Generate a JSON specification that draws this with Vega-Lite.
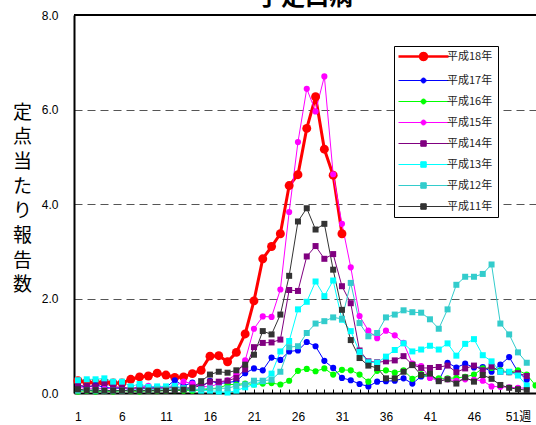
{
"$schema": "https://vega.github.io/schema/vega-lite/v6.json",
"width": 462, "height": 378,
"autosize": {"type": "none"},
"padding": {"left": 74, "top": 15, "right": 0, "bottom": 32},
"background": "white",
"title": {"text": "手足口病", "fontSize": 24, "font": "Noto Sans CJK JP", "fontWeight": "bold", "color": "black", "anchor": "middle", "baseline": "alphabetic", "offset": 4, "dy": 24},
"config": {"view": {"stroke": null}},
"resolve": {"axis": {"x": "independent"}},
"data": {"values": [
{"s":"平成18年","w":1,"v":0.26},{"s":"平成18年","w":2,"v":0.23},{"s":"平成18年","w":3,"v":0.22},{"s":"平成18年","w":4,"v":0.23},{"s":"平成18年","w":5,"v":0.21},{"s":"平成18年","w":6,"v":0.21},{"s":"平成18年","w":7,"v":0.29},{"s":"平成18年","w":8,"v":0.34},{"s":"平成18年","w":9,"v":0.36},{"s":"平成18年","w":10,"v":0.42},{"s":"平成18年","w":11,"v":0.38},{"s":"平成18年","w":12,"v":0.33},{"s":"平成18年","w":13,"v":0.34},{"s":"平成18年","w":14,"v":0.41},{"s":"平成18年","w":15,"v":0.48},{"s":"平成18年","w":16,"v":0.78},{"s":"平成18年","w":17,"v":0.79},{"s":"平成18年","w":18,"v":0.66},{"s":"平成18年","w":19,"v":0.86},{"s":"平成18年","w":20,"v":1.25},{"s":"平成18年","w":21,"v":1.95},{"s":"平成18年","w":22,"v":2.84},{"s":"平成18年","w":23,"v":3.10},{"s":"平成18年","w":24,"v":3.37},{"s":"平成18年","w":25,"v":4.39},{"s":"平成18年","w":26,"v":4.62},{"s":"平成18年","w":27,"v":5.60},{"s":"平成18年","w":28,"v":6.27},{"s":"平成18年","w":29,"v":5.16},{"s":"平成18年","w":30,"v":4.61},{"s":"平成18年","w":31,"v":3.37},
{"s":"平成17年","w":1,"v":0.17},{"s":"平成17年","w":2,"v":0.12},{"s":"平成17年","w":3,"v":0.17},{"s":"平成17年","w":4,"v":0.12},{"s":"平成17年","w":5,"v":0.10},{"s":"平成17年","w":6,"v":0.10},{"s":"平成17年","w":7,"v":0.08},{"s":"平成17年","w":8,"v":0.10},{"s":"平成17年","w":9,"v":0.10},{"s":"平成17年","w":10,"v":0.12},{"s":"平成17年","w":11,"v":0.12},{"s":"平成17年","w":12,"v":0.27},{"s":"平成17年","w":13,"v":0.15},{"s":"平成17年","w":14,"v":0.22},{"s":"平成17年","w":15,"v":0.12},{"s":"平成17年","w":16,"v":0.26},{"s":"平成17年","w":17,"v":0.20},{"s":"平成17年","w":18,"v":0.22},{"s":"平成17年","w":19,"v":0.25},{"s":"平成17年","w":20,"v":0.42},{"s":"平成17年","w":21,"v":0.52},{"s":"平成17年","w":22,"v":0.48},{"s":"平成17年","w":23,"v":0.75},{"s":"平成17年","w":24,"v":0.70},{"s":"平成17年","w":25,"v":0.88},{"s":"平成17年","w":26,"v":0.90},{"s":"平成17年","w":27,"v":1.08},{"s":"平成17年","w":28,"v":0.99},{"s":"平成17年","w":29,"v":0.68},{"s":"平成17年","w":30,"v":0.53},{"s":"平成17年","w":31,"v":0.32},{"s":"平成17年","w":32,"v":0.27},{"s":"平成17年","w":33,"v":0.19},{"s":"平成17年","w":34,"v":0.14},{"s":"平成17年","w":35,"v":0.24},{"s":"平成17年","w":36,"v":0.25},{"s":"平成17年","w":37,"v":0.26},{"s":"平成17年","w":38,"v":0.31},{"s":"平成17年","w":39,"v":0.20},{"s":"平成17年","w":40,"v":0.35},{"s":"平成17年","w":41,"v":0.37},{"s":"平成17年","w":42,"v":0.26},{"s":"平成17年","w":43,"v":0.64},{"s":"平成17年","w":44,"v":0.54},{"s":"平成17年","w":45,"v":0.62},{"s":"平成17年","w":46,"v":0.54},{"s":"平成17年","w":47,"v":0.55},{"s":"平成17年","w":48,"v":0.45},{"s":"平成17年","w":49,"v":0.60},{"s":"平成17年","w":50,"v":0.76},{"s":"平成17年","w":51,"v":0.45},{"s":"平成17年","w":52,"v":0.28},
{"s":"平成16年","w":1,"v":0.03},{"s":"平成16年","w":2,"v":0.05},{"s":"平成16年","w":3,"v":0.03},{"s":"平成16年","w":4,"v":0.04},{"s":"平成16年","w":5,"v":0.03},{"s":"平成16年","w":6,"v":0.05},{"s":"平成16年","w":7,"v":0.04},{"s":"平成16年","w":8,"v":0.03},{"s":"平成16年","w":9,"v":0.05},{"s":"平成16年","w":10,"v":0.04},{"s":"平成16年","w":11,"v":0.05},{"s":"平成16年","w":12,"v":0.06},{"s":"平成16年","w":13,"v":0.05},{"s":"平成16年","w":14,"v":0.05},{"s":"平成16年","w":15,"v":0.06},{"s":"平成16年","w":16,"v":0.08},{"s":"平成16年","w":17,"v":0.10},{"s":"平成16年","w":18,"v":0.18},{"s":"平成16年","w":19,"v":0.18},{"s":"平成16年","w":20,"v":0.20},{"s":"平成16年","w":21,"v":0.18},{"s":"平成16年","w":22,"v":0.20},{"s":"平成16年","w":23,"v":0.21},{"s":"平成16年","w":24,"v":0.18},{"s":"平成16年","w":25,"v":0.26},{"s":"平成16年","w":26,"v":0.47},{"s":"平成16年","w":27,"v":0.51},{"s":"平成16年","w":28,"v":0.46},{"s":"平成16年","w":29,"v":0.52},{"s":"平成16年","w":30,"v":0.39},{"s":"平成16年","w":31,"v":0.49},{"s":"平成16年","w":32,"v":0.48},{"s":"平成16年","w":33,"v":0.39},{"s":"平成16年","w":34,"v":0.24},{"s":"平成16年","w":35,"v":0.47},{"s":"平成16年","w":36,"v":0.48},{"s":"平成16年","w":37,"v":0.43},{"s":"平成16年","w":38,"v":0.48},{"s":"平成16年","w":39,"v":0.30},{"s":"平成16年","w":40,"v":0.40},{"s":"平成16年","w":41,"v":0.33},{"s":"平成16年","w":42,"v":0.31},{"s":"平成16年","w":43,"v":0.31},{"s":"平成16年","w":44,"v":0.32},{"s":"平成16年","w":45,"v":0.34},{"s":"平成16年","w":46,"v":0.39},{"s":"平成16年","w":47,"v":0.52},{"s":"平成16年","w":48,"v":0.53},{"s":"平成16年","w":49,"v":0.48},{"s":"平成16年","w":50,"v":0.44},{"s":"平成16年","w":51,"v":0.48},{"s":"平成16年","w":52,"v":0.39},{"s":"平成16年","w":53,"v":0.16},
{"s":"平成15年","w":1,"v":0.12},{"s":"平成15年","w":2,"v":0.10},{"s":"平成15年","w":3,"v":0.10},{"s":"平成15年","w":4,"v":0.09},{"s":"平成15年","w":5,"v":0.10},{"s":"平成15年","w":6,"v":0.12},{"s":"平成15年","w":7,"v":0.08},{"s":"平成15年","w":8,"v":0.12},{"s":"平成15年","w":9,"v":0.15},{"s":"平成15年","w":10,"v":0.12},{"s":"平成15年","w":11,"v":0.12},{"s":"平成15年","w":12,"v":0.15},{"s":"平成15年","w":13,"v":0.24},{"s":"平成15年","w":14,"v":0.20},{"s":"平成15年","w":15,"v":0.14},{"s":"平成15年","w":16,"v":0.13},{"s":"平成15年","w":17,"v":0.20},{"s":"平成15年","w":18,"v":0.27},{"s":"平成15年","w":19,"v":0.40},{"s":"平成15年","w":20,"v":0.69},{"s":"平成15年","w":21,"v":1.36},{"s":"平成15年","w":22,"v":1.62},{"s":"平成15年","w":23,"v":1.61},{"s":"平成15年","w":24,"v":2.19},{"s":"平成15年","w":25,"v":3.83},{"s":"平成15年","w":26,"v":5.31},{"s":"平成15年","w":27,"v":6.44},{"s":"平成15年","w":28,"v":5.96},{"s":"平成15年","w":29,"v":6.70},{"s":"平成15年","w":30,"v":4.63},{"s":"平成15年","w":31,"v":3.58},{"s":"平成15年","w":32,"v":2.66},{"s":"平成15年","w":33,"v":1.63},{"s":"平成15年","w":34,"v":1.32},{"s":"平成15年","w":35,"v":1.16},{"s":"平成15年","w":36,"v":1.32},{"s":"平成15年","w":37,"v":1.22},{"s":"平成15年","w":38,"v":1.06},{"s":"平成15年","w":39,"v":0.62},{"s":"平成15年","w":40,"v":0.57},{"s":"平成15年","w":41,"v":0.32},{"s":"平成15年","w":42,"v":0.26},{"s":"平成15年","w":43,"v":0.29},{"s":"平成15年","w":44,"v":0.26},{"s":"平成15年","w":45,"v":0.29},{"s":"平成15年","w":46,"v":0.28},{"s":"平成15年","w":47,"v":0.26},{"s":"平成15年","w":48,"v":0.14},{"s":"平成15年","w":49,"v":0.13},{"s":"平成15年","w":50,"v":0.12},{"s":"平成15年","w":51,"v":0.11},{"s":"平成15年","w":52,"v":0.10},
{"s":"平成14年","w":1,"v":0.15},{"s":"平成14年","w":2,"v":0.15},{"s":"平成14年","w":3,"v":0.14},{"s":"平成14年","w":4,"v":0.21},{"s":"平成14年","w":5,"v":0.13},{"s":"平成14年","w":6,"v":0.12},{"s":"平成14年","w":7,"v":0.10},{"s":"平成14年","w":8,"v":0.12},{"s":"平成14年","w":9,"v":0.10},{"s":"平成14年","w":10,"v":0.10},{"s":"平成14年","w":11,"v":0.10},{"s":"平成14年","w":12,"v":0.12},{"s":"平成14年","w":13,"v":0.10},{"s":"平成14年","w":14,"v":0.12},{"s":"平成14年","w":15,"v":0.15},{"s":"平成14年","w":16,"v":0.24},{"s":"平成14年","w":17,"v":0.24},{"s":"平成14年","w":18,"v":0.26},{"s":"平成14年","w":19,"v":0.32},{"s":"平成14年","w":20,"v":0.50},{"s":"平成14年","w":21,"v":0.97},{"s":"平成14年","w":22,"v":1.06},{"s":"平成14年","w":23,"v":1.07},{"s":"平成14年","w":24,"v":1.13},{"s":"平成14年","w":25,"v":2.18},{"s":"平成14年","w":26,"v":2.16},{"s":"平成14年","w":27,"v":2.89},{"s":"平成14年","w":28,"v":3.11},{"s":"平成14年","w":29,"v":2.84},{"s":"平成14年","w":30,"v":2.94},{"s":"平成14年","w":31,"v":2.26},{"s":"平成14年","w":32,"v":1.90},{"s":"平成14年","w":33,"v":0.90},{"s":"平成14年","w":34,"v":0.67},{"s":"平成14年","w":35,"v":0.65},{"s":"平成14年","w":36,"v":0.67},{"s":"平成14年","w":37,"v":0.69},{"s":"平成14年","w":38,"v":0.78},{"s":"平成14年","w":39,"v":0.60},{"s":"平成14年","w":40,"v":0.53},{"s":"平成14年","w":41,"v":0.53},{"s":"平成14年","w":42,"v":0.55},{"s":"平成14年","w":43,"v":0.58},{"s":"平成14年","w":44,"v":0.44},{"s":"平成14年","w":45,"v":0.52},{"s":"平成14年","w":46,"v":0.58},{"s":"平成14年","w":47,"v":0.48},{"s":"平成14年","w":48,"v":0.56},{"s":"平成14年","w":49,"v":0.45},{"s":"平成14年","w":50,"v":0.44},{"s":"平成14年","w":51,"v":0.42},{"s":"平成14年","w":52,"v":0.36},
{"s":"平成13年","w":1,"v":0.27},{"s":"平成13年","w":2,"v":0.29},{"s":"平成13年","w":3,"v":0.29},{"s":"平成13年","w":4,"v":0.31},{"s":"平成13年","w":5,"v":0.24},{"s":"平成13年","w":6,"v":0.24},{"s":"平成13年","w":7,"v":0.14},{"s":"平成13年","w":8,"v":0.19},{"s":"平成13年","w":9,"v":0.13},{"s":"平成13年","w":10,"v":0.14},{"s":"平成13年","w":11,"v":0.14},{"s":"平成13年","w":12,"v":0.15},{"s":"平成13年","w":13,"v":0.10},{"s":"平成13年","w":14,"v":0.08},{"s":"平成13年","w":15,"v":0.05},{"s":"平成13年","w":16,"v":0.05},{"s":"平成13年","w":17,"v":0.03},{"s":"平成13年","w":18,"v":0.01},{"s":"平成13年","w":19,"v":0.05},{"s":"平成13年","w":20,"v":0.12},{"s":"平成13年","w":21,"v":0.18},{"s":"平成13年","w":22,"v":0.25},{"s":"平成13年","w":23,"v":0.41},{"s":"平成13年","w":24,"v":0.88},{"s":"平成13年","w":25,"v":1.10},{"s":"平成13年","w":26,"v":1.77},{"s":"平成13年","w":27,"v":1.93},{"s":"平成13年","w":28,"v":2.36},{"s":"平成13年","w":29,"v":2.05},{"s":"平成13年","w":30,"v":2.38},{"s":"平成13年","w":31,"v":1.55},{"s":"平成13年","w":32,"v":1.31},{"s":"平成13年","w":33,"v":0.87},{"s":"平成13年","w":34,"v":0.65},{"s":"平成13年","w":35,"v":0.64},{"s":"平成13年","w":36,"v":0.77},{"s":"平成13年","w":37,"v":0.91},{"s":"平成13年","w":38,"v":1.05},{"s":"平成13年","w":39,"v":0.88},{"s":"平成13年","w":40,"v":0.92},{"s":"平成13年","w":41,"v":1.00},{"s":"平成13年","w":42,"v":0.92},{"s":"平成13年","w":43,"v":1.05},{"s":"平成13年","w":44,"v":0.79},{"s":"平成13年","w":45,"v":1.04},{"s":"平成13年","w":46,"v":1.14},{"s":"平成13年","w":47,"v":0.80},{"s":"平成13年","w":48,"v":0.67},{"s":"平成13年","w":49,"v":0.45},{"s":"平成13年","w":50,"v":0.45},{"s":"平成13年","w":51,"v":0.37},{"s":"平成13年","w":52,"v":0.16},
{"s":"平成12年","w":1,"v":0.05},{"s":"平成12年","w":2,"v":0.06},{"s":"平成12年","w":3,"v":0.05},{"s":"平成12年","w":4,"v":0.05},{"s":"平成12年","w":5,"v":0.05},{"s":"平成12年","w":6,"v":0.05},{"s":"平成12年","w":7,"v":0.06},{"s":"平成12年","w":8,"v":0.06},{"s":"平成12年","w":9,"v":0.06},{"s":"平成12年","w":10,"v":0.08},{"s":"平成12年","w":11,"v":0.08},{"s":"平成12年","w":12,"v":0.08},{"s":"平成12年","w":13,"v":0.08},{"s":"平成12年","w":14,"v":0.08},{"s":"平成12年","w":15,"v":0.08},{"s":"平成12年","w":16,"v":0.10},{"s":"平成12年","w":17,"v":0.10},{"s":"平成12年","w":18,"v":0.10},{"s":"平成12年","w":19,"v":0.15},{"s":"平成12年","w":20,"v":0.18},{"s":"平成12年","w":21,"v":0.26},{"s":"平成12年","w":22,"v":0.26},{"s":"平成12年","w":23,"v":0.28},{"s":"平成12年","w":24,"v":0.45},{"s":"平成12年","w":25,"v":0.97},{"s":"平成12年","w":26,"v":0.99},{"s":"平成12年","w":27,"v":1.27},{"s":"平成12年","w":28,"v":1.47},{"s":"平成12年","w":29,"v":1.52},{"s":"平成12年","w":30,"v":1.60},{"s":"平成12年","w":31,"v":1.57},{"s":"平成12年","w":32,"v":2.33},{"s":"平成12年","w":33,"v":1.48},{"s":"平成12年","w":34,"v":1.20},{"s":"平成12年","w":35,"v":1.27},{"s":"平成12年","w":36,"v":1.60},{"s":"平成12年","w":37,"v":1.66},{"s":"平成12年","w":38,"v":1.75},{"s":"平成12年","w":39,"v":1.71},{"s":"平成12年","w":40,"v":1.70},{"s":"平成12年","w":41,"v":1.56},{"s":"平成12年","w":42,"v":1.36},{"s":"平成12年","w":43,"v":1.77},{"s":"平成12年","w":44,"v":2.29},{"s":"平成12年","w":45,"v":2.46},{"s":"平成12年","w":46,"v":2.46},{"s":"平成12年","w":47,"v":2.52},{"s":"平成12年","w":48,"v":2.72},{"s":"平成12年","w":49,"v":1.47},{"s":"平成12年","w":50,"v":1.24},{"s":"平成12年","w":51,"v":0.86},{"s":"平成12年","w":52,"v":0.64},
{"s":"平成11年","w":1,"v":0.08},{"s":"平成11年","w":2,"v":0.06},{"s":"平成11年","w":3,"v":0.06},{"s":"平成11年","w":4,"v":0.05},{"s":"平成11年","w":5,"v":0.05},{"s":"平成11年","w":6,"v":0.05},{"s":"平成11年","w":7,"v":0.05},{"s":"平成11年","w":8,"v":0.05},{"s":"平成11年","w":9,"v":0.05},{"s":"平成11年","w":10,"v":0.05},{"s":"平成11年","w":11,"v":0.05},{"s":"平成11年","w":12,"v":0.06},{"s":"平成11年","w":13,"v":0.07},{"s":"平成11年","w":14,"v":0.10},{"s":"平成11年","w":15,"v":0.25},{"s":"平成11年","w":16,"v":0.39},{"s":"平成11年","w":17,"v":0.45},{"s":"平成11年","w":18,"v":0.43},{"s":"平成11年","w":19,"v":0.48},{"s":"平成11年","w":20,"v":0.60},{"s":"平成11年","w":21,"v":0.81},{"s":"平成11年","w":22,"v":1.31},{"s":"平成11年","w":23,"v":1.24},{"s":"平成11年","w":24,"v":1.66},{"s":"平成11年","w":25,"v":2.48},{"s":"平成11年","w":26,"v":3.63},{"s":"平成11年","w":27,"v":3.91},{"s":"平成11年","w":28,"v":3.46},{"s":"平成11年","w":29,"v":3.58},{"s":"平成11年","w":30,"v":2.61},{"s":"平成11年","w":31,"v":1.76},{"s":"平成11年","w":32,"v":1.12},{"s":"平成11年","w":33,"v":0.74},{"s":"平成11年","w":34,"v":0.58},{"s":"平成11年","w":35,"v":0.53},{"s":"平成11年","w":36,"v":0.31},{"s":"平成11年","w":37,"v":0.31},{"s":"平成11年","w":38,"v":0.45},{"s":"平成11年","w":39,"v":0.59},{"s":"平成11年","w":40,"v":0.38},{"s":"平成11年","w":41,"v":0.41},{"s":"平成11年","w":42,"v":0.25},{"s":"平成11年","w":43,"v":0.29},{"s":"平成11年","w":44,"v":0.20},{"s":"平成11年","w":45,"v":0.33},{"s":"平成11年","w":46,"v":0.24},{"s":"平成11年","w":47,"v":0.38},{"s":"平成11年","w":48,"v":0.30},{"s":"平成11年","w":49,"v":0.17},{"s":"平成11年","w":50,"v":0.11},{"s":"平成11年","w":51,"v":0.08},{"s":"平成11年","w":52,"v":0.06}
]},
"layer": [
{"mark": {"type": "rule", "color": "black", "strokeWidth": 2},
 "encoding": {"y": {"datum": 8, "type": "quantitative"}}},
{"mark": {"type": "line", "strokeJoin": "round"},
 "encoding": {
  "x": {"field": "w", "type": "quantitative",
        "scale": {"domain": [0.55, 53.05], "nice": false, "zero": false},
        "axis": {"orient": "bottom", "title": null, "values": [1,6,11,16,21,26,31,36,41,46,51],
                 "labelExpr": "datum.value == 51 ? '51週' : datum.label", "format": "d",
                 "labelFont": "Liberation Sans, Noto Sans CJK JP", "labelFontSize": 12, "labelColor": "black",
                 "ticks": false, "tickSize": 0, "labelPadding": 18,
                 "domainColor": "black", "domainWidth": 2, "grid": false, "labelOverlap": false, "labelFlush": false}},
  "y": {"field": "v", "type": "quantitative",
        "scale": {"domain": [0, 8], "nice": false},
        "axis": {"title": ["定","点","当","た","り","報","告","数"], "titleAngle": 0, "titleFont": "Noto Sans CJK JP", "titleFontSize": 19, "titleFontWeight": "normal", "titleColor": "black", "titleLineHeight": 24.7, "titleX": -52, "titleY": 97, "titleBaseline": "middle", "titleAlign": "center",
                 "values": [0,2,4,6,8], "format": ".1f", "labelFont": "Liberation Sans", "labelFontSize": 12, "labelColor": "black", "labelPadding": 16, "ticks": false,
                 "domainColor": "black", "domainWidth": 2, "grid": true, "gridColor": "#555555", "gridDash": [8,5], "gridWidth": 1.2}},
  "color": {"field": "s", "type": "nominal",
            "scale": {"domain": ["平成18年","平成17年","平成16年","平成15年","平成14年","平成13年","平成12年","平成11年"],
                      "range": ["#FF0000","#0000FF","#00FF00","#FF00FF","#800080","#00FFFF","#33CCCC","#333333"]},
            "legend": {"orient": "none", "legendX": 320, "legendY": 31, "title": null,
                       "fillColor": "white", "strokeColor": "black", "padding": 5, "rowPadding": 9,
                       "columns": 1, "columnPadding": 0,
                       "symbolSize": 100, "symbolOffset": 0, "labelOffset": 37, "labelLimit": 56,
                       "labelFont": "Noto Sans CJK JP", "labelFontSize": 11, "labelColor": "#222222",
                       "encode": {"symbols": {"update": {
                         "shape": {"signal": "datum.value === '平成18年' ? 'M-1.2,0H8.8M4.5,0L4.406,0.35L4.15,0.606L3.8,0.7L3.45,0.606L3.194,0.35L3.1,0L3.194,-0.35L3.45,-0.606L3.8,-0.7L4.15,-0.606L4.406,-0.35Z' : (indexof(['平成17年','平成16年','平成15年'], datum.value) >= 0 ? 'M-1.2,0H8.8M4.3,0L4.233,0.25L4.05,0.433L3.8,0.5L3.55,0.433L3.367,0.25L3.3,0L3.367,-0.25L3.55,-0.433L3.8,-0.5L4.05,-0.433L4.233,-0.25Z' : 'M-1.2,0H8.8M3.25,-0.55H4.35V0.55H3.25Z')"},
                         "size": {"value": 100},
                         "fill": {"signal": "scale('color', datum.value)"},
                         "stroke": {"signal": "scale('color', datum.value)"},
                         "strokeWidth": {"signal": "datum.value === '平成18年' ? 2.5 : 1"},
                         "opacity": {"value": 1}, "fillOpacity": {"value": 1}, "strokeOpacity": {"value": 1}}}}}},
  "strokeWidth": {"condition": {"test": "datum.s === '平成18年'", "value": 3}, "value": 1}
 }},
{"transform": [{"filter": "indexof(['平成18年','平成17年','平成16年','平成15年'], datum.s) >= 0"}],
 "mark": {"type": "point", "shape": "circle", "filled": true, "opacity": 1, "strokeWidth": 0},
 "encoding": {
  "x": {"field": "w", "type": "quantitative",
        "axis": {"orient": "bottom", "title": null, "values": [1,2,3,4,5,6,7,8,9,10,11,12,13,14,15,16,17,18,19,20,21,22,23,24,25,26,27,28,29,30,31,32,33,34,35,36,37,38,39,40,41,42,43,44,45,46,47,48,49,50,51,52,53],
                 "labels": false, "tickSize": -4, "tickColor": "black", "tickWidth": 1, "domain": false, "grid": false}},
  "y": {"field": "v", "type": "quantitative"},
  "color": {"field": "s", "type": "nominal"},
  "size": {"condition": {"test": "datum.s === '平成18年'", "value": 80}, "value": 38}
 }},
{"transform": [{"filter": "indexof(['平成18年','平成17年','平成16年','平成15年'], datum.s) < 0"}],
 "mark": {"type": "point", "shape": "square", "filled": true, "opacity": 1, "strokeWidth": 0},
 "encoding": {
  "x": {"field": "w", "type": "quantitative", "axis": null},
  "y": {"field": "v", "type": "quantitative"},
  "color": {"field": "s", "type": "nominal"},
  "size": {"value": 36}
 }}
]
}
